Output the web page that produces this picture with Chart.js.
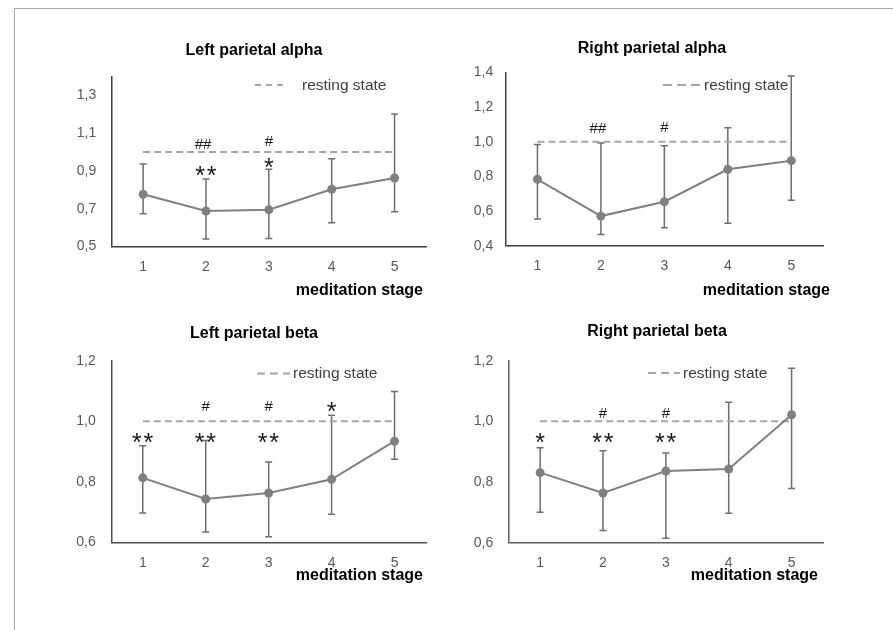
<!DOCTYPE html>
<html><head><meta charset="utf-8">
<script src="https://cdn.jsdelivr.net/npm/chart.js@4.4.1/dist/chart.umd.min.js"></script>
<style>
html,body{margin:0;padding:0;background:#fff;width:893px;height:630px;overflow:hidden;}
#frame{position:absolute;left:14px;top:8px;width:900px;height:640px;border-left:1.5px solid #a8a8a8;border-top:1.5px solid #a8a8a8;}
canvas{position:absolute;}
</style></head><body>
<div id="frame"></div>
<canvas id="c1"></canvas><canvas id="c2"></canvas><canvas id="c3"></canvas><canvas id="c4"></canvas>
<script>
// ---- data ----
const stages = ['1','2','3','4','5'];
const restingLevel = [1, 1, 1, 1, 1];

const lpaTicks = [0.5, 0.7, 0.9, 1.1, 1.3];
const lpaMean  = [0.777, 0.688, 0.695, 0.803, 0.863];
const lpaUpper = [0.937, 0.858, 0.909, 0.965, 1.202];
const lpaLower = [0.674, 0.540, 0.543, 0.626, 0.684];
const lpaHash  = ['', '##', '#', '', ''];
const lpaStar  = ['', '**', '*', '', ''];

const rpaTicks = [0.4, 0.6, 0.8, 1.0, 1.2, 1.4];
const rpaMean  = [0.783, 0.571, 0.654, 0.841, 0.891];
const rpaUpper = [0.985, 0.993, 0.977, 1.081, 1.380];
const rpaLower = [0.554, 0.464, 0.504, 0.529, 0.662];
const rpaHash  = ['', '##', '#', '', ''];
const rpaStar  = ['', '', '', '', ''];

const lpbTicks = [0.6, 0.8, 1.0, 1.2];
const lpbMean  = [0.813, 0.743, 0.763, 0.808, 0.934];
const lpbUpper = [0.919, 0.936, 0.865, 1.020, 1.098];
const lpbLower = [0.697, 0.634, 0.618, 0.693, 0.874];
const lpbHash  = ['', '#', '#', '', ''];
const lpbStar  = ['**', '**', '**', '*', ''];

const rpbTicks = [0.6, 0.8, 1.0, 1.2];
const rpbMean  = [0.831, 0.764, 0.836, 0.843, 1.022];
const rpbUpper = [0.913, 0.903, 0.896, 1.063, 1.175];
const rpbLower = [0.700, 0.640, 0.615, 0.697, 0.779];
const rpbHash  = ['', '#', '#', '', ''];
const rpbStar  = ['*', '**', '**', '', ''];

// ---- layout / style (page coordinates) ----
const panels = [
  {id:'c1', title:'Left parietal alpha', mean:lpaMean, upper:lpaUpper, lower:lpaLower, ticks:lpaTicks, min:0.5, max:1.4,
   hash:lpaHash, star:lpaStar, cv:{x:20,y:20,w:430,h:290}, area:{l:111.7,t:76.6,r:426,b:246.5}, tickPad:15.5,
   titlePos:[254,50], legend:{x0:255,x1:283,tx:302,y:85,dash:[6,5]}, xTitle:[423,290],
   hashDy:[0,-8.5,-11,0,0], starDy:[0,19,10.7,0,0], axisColor:'#404040'},
  {id:'c2', title:'Right parietal alpha', mean:rpaMean, upper:rpaUpper, lower:rpaLower, ticks:rpaTicks, min:0.4, max:1.4,
   hash:rpaHash, star:rpaStar, cv:{x:450,y:20,w:430,h:290}, area:{l:505.7,t:72.5,r:823,b:245.7}, tickPad:12.5,
   titlePos:[652,48], legend:{x0:663,x1:700,tx:704,y:85,dash:[9,5]}, xTitle:[830,290],
   hashDy:[0,-14,-15,0,0], starDy:[0,0,0,0,0], axisColor:'#404040'},
  {id:'c3', title:'Left parietal beta', mean:lpbMean, upper:lpbUpper, lower:lpbLower, ticks:lpbTicks, min:0.6, max:1.2,
   hash:lpbHash, star:lpbStar, cv:{x:20,y:310,w:430,h:310}, area:{l:111.3,t:360.7,r:426,b:542.3}, tickPad:15.5,
   titlePos:[254,333.5], legend:{x0:257,x1:290,tx:293,y:373.5,dash:[8,5]}, xTitle:[423,575],
   hashDy:[0,-15,-15,0,0], starDy:[16.7,16.7,16.7,-14.5,0], axisColor:'#505050'},
  {id:'c4', title:'Right parietal beta', mean:rpbMean, upper:rpbUpper, lower:rpbLower, ticks:rpbTicks, min:0.6, max:1.2,
   hash:rpbHash, star:rpbStar, cv:{x:450,y:310,w:430,h:310}, area:{l:508.7,t:360.7,r:823,b:542.7}, tickPad:15.5,
   titlePos:[657,331], legend:{x0:648,x1:680,tx:683,y:373,dash:[8,5]}, xTitle:[818,575],
   hashDy:[0,-8.5,-8.5,0,0], starDy:[16.5,16.5,16.5,0,0], axisColor:'#606060'}
];

const SANS = '"Liberation Sans", Arial, sans-serif';
const X_H = 30;
const seriesColor = '#808080';
const errColor = '#6e6e6e';
const restColor = '#a6a6a6';

function centeredText(ctx, txt, x, cy) {
  const m = ctx.measureText(txt);
  const asc = m.actualBoundingBoxAscent, desc = m.actualBoundingBoxDescent;
  ctx.fillText(txt, x, cy + (asc - desc) / 2);
}

function makePlugin(p) {
  return {
    id: 'decor_' + p.id,
    beforeDatasetsDraw(chart) {
      const ctx = chart.ctx, xs = chart.scales.x, ys = chart.scales.y;
      ctx.save();
      ctx.strokeStyle = errColor; ctx.lineWidth = 1.5;
      p.mean.forEach((m, i) => {
        const x = xs.getPixelForValue(i);
        const yt = ys.getPixelForValue(p.upper[i]);
        const yb = ys.getPixelForValue(p.lower[i]);
        ctx.beginPath();
        ctx.moveTo(x, yt); ctx.lineTo(x, yb);
        ctx.moveTo(x - 3.5, yt); ctx.lineTo(x + 3.5, yt);
        ctx.moveTo(x - 3.5, yb); ctx.lineTo(x + 3.5, yb);
        ctx.stroke();
      });
      ctx.restore();
    },
    afterDraw(chart) {
      const ctx = chart.ctx, xs = chart.scales.x, ys = chart.scales.y;
      const ox = p.cv.x, oy = p.cv.y;
      ctx.save();
      // title
      ctx.fillStyle = '#000';
      ctx.font = 'bold 16px ' + SANS;
      ctx.textAlign = 'center';
      centeredText(ctx, p.title, p.titlePos[0] - ox, p.titlePos[1] - oy);
      // x axis title
      ctx.textAlign = 'right';
      centeredText(ctx, 'meditation stage', p.xTitle[0] - ox, p.xTitle[1] - oy);
      // legend
      const L = p.legend;
      ctx.strokeStyle = restColor; ctx.lineWidth = 2; ctx.setLineDash(L.dash);
      ctx.beginPath(); ctx.moveTo(L.x0 - ox, L.y - oy); ctx.lineTo(L.x1 - ox, L.y - oy); ctx.stroke();
      ctx.setLineDash([]);
      ctx.fillStyle = '#404040';
      ctx.font = '15.5px ' + SANS;
      ctx.textAlign = 'left'; ctx.textBaseline = 'middle';
      ctx.fillText('resting state', L.tx - ox, L.y - oy + 0.5);
      ctx.textBaseline = 'alphabetic';
      // annotations
      const restY = ys.getPixelForValue(1);
      ctx.fillStyle = '#1a1a1a';
      ctx.textAlign = 'center';
      stages.forEach((s, i) => {
        const x = xs.getPixelForValue(i);
        if (p.hash[i]) {
          ctx.font = '15px ' + SANS;
          centeredText(ctx, p.hash[i], x - (p.hash[i].length > 1 ? 3 : 0), restY + p.hashDy[i]);
        }
        if (p.star[i]) {
          ctx.font = '25px ' + SANS;
          const n = p.star[i].length;
          for (let k = 0; k < n; k++) {
            const sx = x + (n > 1 ? (k === 0 ? -6 : 5.5) : 0);
            centeredText(ctx, '*', sx, restY + p.starDy[i]);
          }
        }
      });
      ctx.restore();
    }
  };
}

panels.forEach(p => {
  const cv = document.getElementById(p.id);
  cv.width = p.cv.w; cv.height = p.cv.h;
  cv.style.left = p.cv.x + 'px'; cv.style.top = p.cv.y + 'px';
  const yW = p.area.l - p.cv.x;
  const padTop = p.area.t - p.cv.y;
  const padRight = p.cv.x + p.cv.w - p.area.r;
  const padBottom = p.cv.y + p.cv.h - p.area.b - X_H;
  new Chart(cv, {
    type: 'line',
    data: {
      labels: stages,
      datasets: [
        {data: p.mean, borderColor: seriesColor, backgroundColor: seriesColor, borderWidth: 2,
         pointRadius: 4.5, pointBackgroundColor: seriesColor, pointBorderColor: seriesColor, pointBorderWidth: 0, tension: 0},
        {data: restingLevel, borderColor: restColor, borderWidth: 2, borderDash: [7, 4], pointRadius: 0, tension: 0}
      ]
    },
    options: {
      responsive: false, animation: false, events: [],
      layout: {padding: {left: 0, top: padTop, right: padRight, bottom: padBottom}},
      plugins: {legend: {display: false}, title: {display: false}, tooltip: {enabled: false}},
      scales: {
        x: {
          type: 'category', offset: true,
          grid: {display: false, drawTicks: false},
          border: {display: true, color: p.axisColor, width: 1.5},
          ticks: {color: '#595959', font: {family: SANS, size: 14}, padding: 12.5, maxRotation: 0},
          afterFit(s) { s.height = X_H; }
        },
        y: {
          type: 'linear', min: p.min, max: p.max,
          grid: {display: false, drawTicks: false},
          border: {display: true, color: p.axisColor, width: 1.5},
          ticks: {color: '#595959', font: {family: SANS, size: 14}, padding: p.tickPad,
                  callback: v => v.toFixed(1).replace('.', ',')},
          afterBuildTicks(s) { s.ticks = p.ticks.map(v => ({value: v})); },
          afterFit(s) { s.width = yW; }
        }
      }
    },
    plugins: [makePlugin(p)]
  });
});
</script>
</body></html>
